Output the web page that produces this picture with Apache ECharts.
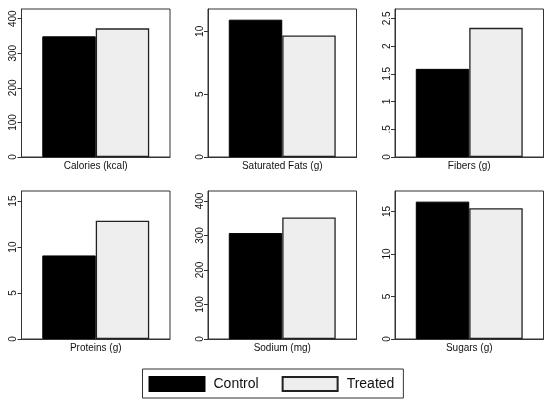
<!DOCTYPE html>
<html>
<head>
<meta charset="utf-8">
<script src="https://cdn.jsdelivr.net/npm/echarts@6/dist/echarts.min.js"></script>
<style>
  html, body { margin: 0; padding: 0; background: #fff; }
  #chart { width: 550px; height: 403px; }
</style>
</head>
<body>
<div id="chart"></div>
<script>
// 六个面板: 营养成分对照 vs 处理
const NUTRIENTS = ['Calories (kcal)', 'Saturated Fats (g)', 'Fibers (g)', 'Proteins (g)', 'Sodium (mg)', 'Sugars (g)'];
const CONTROL = [349, 10.93, 1.59, 9.09, 307, 16.15];
const TREATED = [372, 9.67, 2.33, 12.86, 352, 15.38];
const Y_MAX = [428, 11.78, 2.67, 16.1, 429, 17.4];
const Y_TICKS = [
    [0, 100, 200, 300, 400],
    [0, 5, 10],
    [0, 0.5, 1, 1.5, 2, 2.5],
    [0, 5, 10, 15],
    [0, 100, 200, 300, 400],
    [0, 5, 10, 15]
];
const GROUPS = ['Control', 'Treated'];

const FONT = "'Liberation Sans', Arial, Helvetica, sans-serif";
const COL_LEFT = [21.5, 208, 395];
const ROW_TOP = [9, 191];

const grids = [], xAxes = [], yAxes = [], series = [];
NUTRIENTS.forEach((name, i) => {
    grids.push({
        left: COL_LEFT[i % 3], top: ROW_TOP[Math.floor(i / 3)],
        width: 148.5, height: 148,
        show: true, borderColor: '#333', borderWidth: 1, backgroundColor: '#fff'
    });
    xAxes.push({
        type: 'category', gridIndex: i, data: [name],
        axisLine: { show: true, lineStyle: { color: '#333', width: 1 } },
        axisTick: { show: false },
        axisLabel: { color: '#111', fontSize: 10, fontFamily: FONT, margin: 4 }
    });
    yAxes.push({
        type: 'value', gridIndex: i, min: 0, max: Y_MAX[i],
        splitLine: { show: false },
        axisLine: { show: true, lineStyle: { color: '#333', width: 1 } },
        axisTick: { show: true, length: 4, customValues: Y_TICKS[i], lineStyle: { color: '#333' } },
        axisLabel: {
            customValues: Y_TICKS[i], rotate: 90, margin: 3,
            color: '#111', fontSize: 10, fontFamily: FONT,
            formatter: v => String(v).replace(/^0\./, '.')
        }
    });
    series.push({
        type: 'bar', name: GROUPS[0], xAxisIndex: i, yAxisIndex: i,
        data: [CONTROL[i]], barGap: '0%', barCategoryGap: '28%',
        itemStyle: { color: '#000', borderColor: '#000', borderWidth: 1 }
    });
    series.push({
        type: 'bar', name: GROUPS[1], xAxisIndex: i, yAxisIndex: i,
        data: [TREATED[i]], barGap: '0%', barCategoryGap: '28%',
        itemStyle: { color: '#eeeeee', borderColor: '#222', borderWidth: 1.3 }
    });
});

const chart = echarts.init(document.getElementById('chart'), null, { renderer: 'canvas' });
chart.setOption({
    animation: false,
    backgroundColor: '#fff',
    grid: grids,
    xAxis: xAxes,
    yAxis: yAxes,
    legend: {
        data: GROUPS,
        left: 142.5, top: 369,
        orient: 'horizontal',
        borderColor: '#333', borderWidth: 1,
        padding: [7, 9, 6, 6],
        itemWidth: 55, itemHeight: 14, itemGap: 23,
        icon: 'rect',
        textStyle: { color: '#111', fontSize: 14, fontFamily: FONT, padding: [0, 0, 0, 4] },
        selectedMode: false
    },
    series: series
});
</script>
</body>
</html>
